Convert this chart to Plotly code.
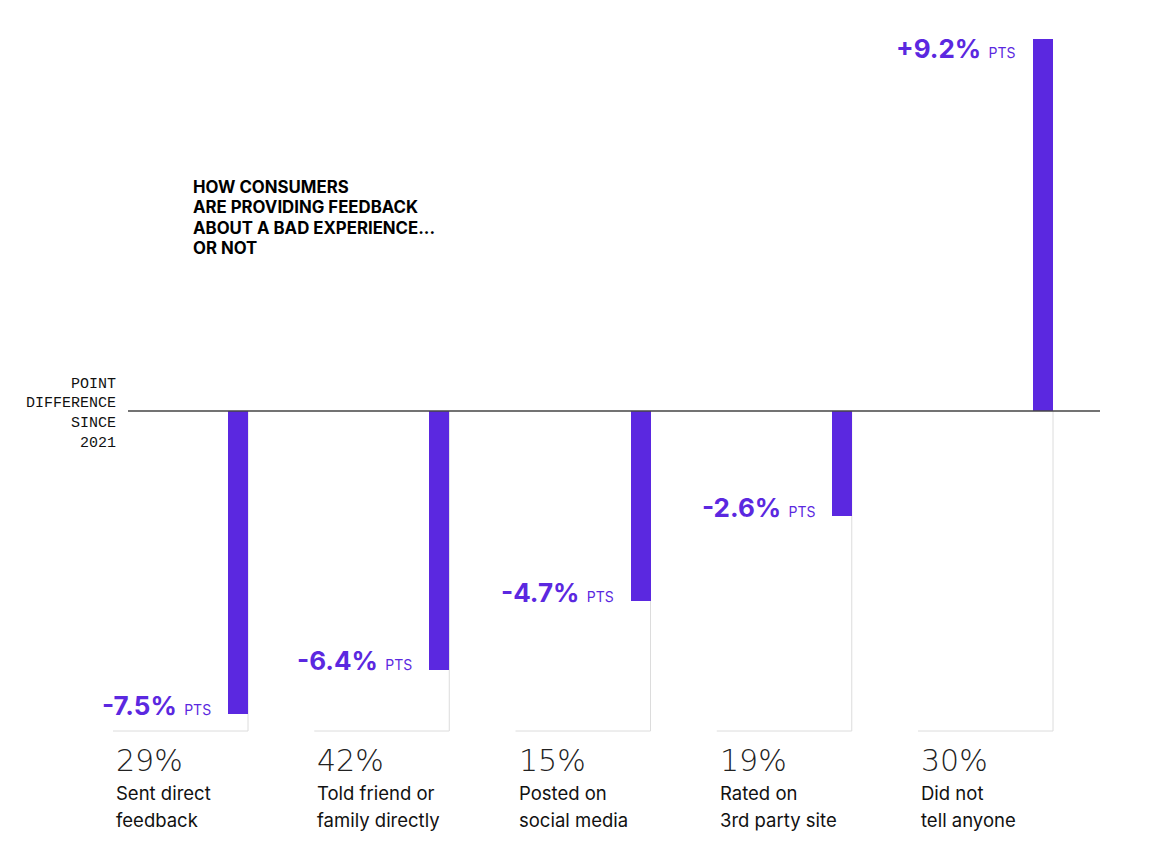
import plotly.graph_objects as go

# ---- data ----
categories = ["Sent direct feedback", "Told friend or family directly", "Posted on social media",
              "Rated on 3rd party site", "Did not tell anyone"]
label_line1 = ["Sent direct", "Told friend or", "Posted on", "Rated on", "Did not"]
label_line2 = ["feedback", "family directly", "social media", "3rd party site", "tell anyone"]
share_pct = [29, 42, 15, 19, 30]
point_diff = [-7.5, -6.4, -4.7, -2.6, 9.2]
title_lines = ["HOW CONSUMERS", "ARE PROVIDING FEEDBACK", "ABOUT A BAD EXPERIENCE...", "OR NOT"]
axis_note = ["POINT", "DIFFERENCE", "SINCE", "2021"]

# ---- layout geometry (pixels) ----
W, H = 1150, 856
x_first, x_step = 238.0, 201.25          # bar centre pixels
y_zero, px_per_unit = 411.0, 40.43
bar_px = 20.0

def ux(px):
    return (px - x_first) / x_step

def uy(py):
    return (y_zero - py) / px_per_unit

x_range = [ux(0), ux(W)]
y_range = [uy(H), uy(0)]
bar_w = bar_px / x_step
PURPLE = "#5B28E0"
GRID = "#dcdcdc"

xs = list(range(len(categories)))

fig = go.Figure()
fig.add_trace(go.Bar(
    x=xs, y=point_diff, width=bar_w, marker=dict(color=PURPLE, line=dict(width=0)),
    hoverinfo="skip", showlegend=False))

shapes = []
y_box_bottom = uy(731)
for i in xs:
    right = i + bar_w / 2
    left = i + ux(113)
    shapes.append(dict(type="line", xref="x", yref="y", x0=right, x1=right, y0=0, y1=y_box_bottom,
                       line=dict(color=GRID, width=1), layer="below"))
    shapes.append(dict(type="line", xref="x", yref="y", x0=left, x1=right, y0=y_box_bottom, y1=y_box_bottom,
                       line=dict(color=GRID, width=1), layer="below"))
# zero line
shapes.append(dict(type="line", xref="x", yref="y", x0=ux(128), x1=ux(1100), y0=0, y1=0,
                   line=dict(color="#444444", width=1.5), layer="above"))

ann = []
for i, v in zip(xs, point_diff):
    sign = "+" if v > 0 else ""
    ann.append(dict(
        x=i - bar_w / 2 - 15 / x_step, y=v, xref="x", yref="y",
        xanchor="right", yanchor="middle", yshift=(9 if v < 0 else -9),
        text=f"<b>{sign}{v:.1f}%</b> <span style='font-size:14px;font-weight:400'>PTS</span>",
        showarrow=False, font=dict(family="Inter", size=26, color=PURPLE)))
    ann.append(dict(x=i + ux(114), y=uy(760), xref="x", yref="y", xanchor="left", yanchor="middle",
                    text=f"{share_pct[i]}%", showarrow=False,
                    font=dict(family="DejaVu Sans", size=30, color="#222222", weight=200)))
    ann.append(dict(x=i + ux(114), y=uy(793), xref="x", yref="y", xanchor="left", yanchor="middle",
                    text=label_line1[i], showarrow=False,
                    font=dict(family="Inter", size=18.5, color="#111111")))
    ann.append(dict(x=i + ux(114), y=uy(820), xref="x", yref="y", xanchor="left", yanchor="middle",
                    text=label_line2[i], showarrow=False,
                    font=dict(family="Inter", size=18.5, color="#111111")))

for k, line in enumerate(title_lines):
    ann.append(dict(x=ux(191), y=uy(187 + 20.3 * k), xref="x", yref="y", xanchor="left", yanchor="middle",
                    text=f"<b>{line}</b>", showarrow=False,
                    font=dict(family="Inter", size=16.8, color="#000000", weight=800)))

for k, line in enumerate(axis_note):
    ann.append(dict(x=ux(118), y=uy(384 + 19.7 * k), xref="x", yref="y", xanchor="right", yanchor="middle",
                    text=line, showarrow=False,
                    font=dict(family="Liberation Mono", size=15, color="#111111")))

fig.update_layout(
    width=W, height=H, margin=dict(l=0, r=0, t=0, b=0),
    paper_bgcolor="white", plot_bgcolor="white",
    xaxis=dict(range=x_range, visible=False, fixedrange=True),
    yaxis=dict(range=y_range, visible=False, fixedrange=True, zeroline=False),
    shapes=shapes, annotations=ann, bargap=0,
)

fig.write_html("out.html", config={"displayModeBar": False},
               post_script="document.body.style.margin='0';")
